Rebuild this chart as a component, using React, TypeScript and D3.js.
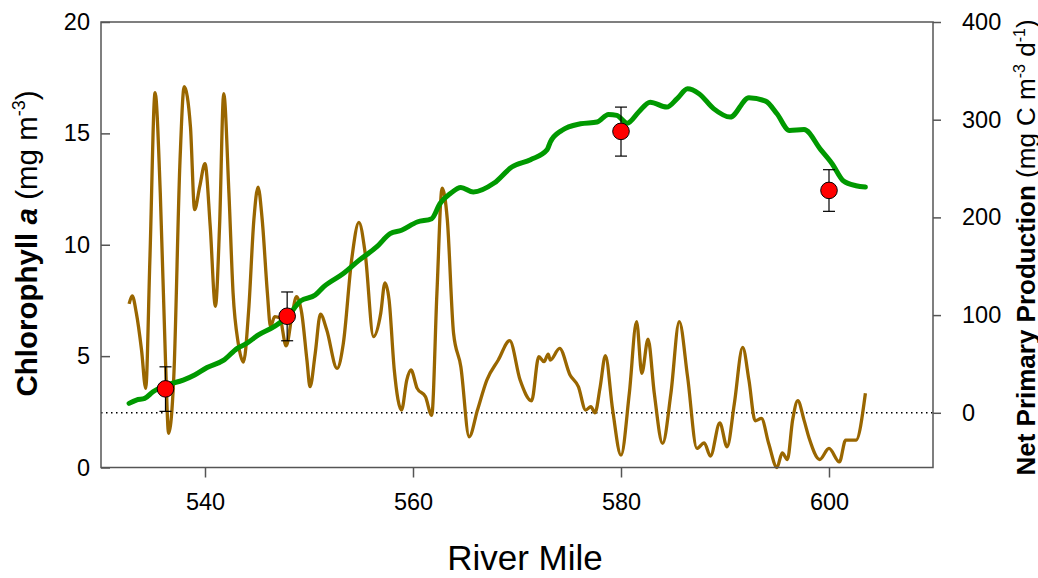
import * as React from "react";
import * as d3 from "d3";

// green line: chlorophyll a along the river (left axis)
const chlMiles = [
	532.7, 533.4, 534.2, 535.0, 536.3, 537.9, 539.0, 540.2, 541.8, 543.1, 544.0,
	545.1, 546.6, 547.9, 549.2, 550.6, 551.4, 553.3, 554.8, 556.5, 557.8, 558.9,
	560.4, 561.8, 562.6, 563.6, 564.6, 565.8, 567.8, 569.5, 571.3, 572.9, 573.2,
	574.3, 576.1, 577.7, 578.8, 579.6, 580.6, 581.7, 582.8, 584.4, 585.4, 586.4,
	587.5, 588.9, 590.5, 592.3, 593.9, 595.0, 596.2, 597.6, 599.2, 600.3, 601.4,
	602.6, 603.5,
];
const chlValues = [
	2.88, 3.03, 3.1, 3.4, 3.7, 3.92, 4.15, 4.49, 4.82, 5.35, 5.57, 5.94, 6.31,
	6.76, 7.48, 7.74, 8.11, 8.71, 9.3, 9.9, 10.5, 10.65, 11.02, 11.17, 11.85,
	12.3, 12.57, 12.37, 12.77, 13.49, 13.82, 14.27, 14.61, 15.13, 15.43, 15.51,
	15.85, 15.81, 15.46, 15.96, 16.4, 16.18, 16.56, 17.0, 16.78, 16.11, 15.73,
	16.6, 16.45, 15.88, 15.13, 15.17, 14.27, 13.64, 12.86, 12.65, 12.59,
];

// brown line: net primary production (right axis)
const nppMiles = [
	532.7, 533.0, 533.4, 533.9, 534.3, 534.7, 535.2, 535.7, 536.2, 536.5, 537.0,
	537.6, 538.0, 538.6, 539.0, 539.5, 540.0, 540.5, 541.0, 541.4, 541.8, 542.3,
	542.7, 543.2, 543.7, 544.2, 544.7, 545.1, 545.5, 546.0, 546.3, 546.7, 547.2,
	547.8, 548.4, 548.8, 549.3, 549.8, 550.1, 550.6, 551.1, 551.7, 552.7, 553.3,
	554.1, 554.8, 555.4, 556.2, 556.9, 557.3, 557.7, 558.2, 558.9, 559.4, 559.8,
	560.4, 561.2, 561.8, 562.3, 562.8, 563.3, 563.9, 564.6, 565.4, 566.2, 567.1,
	568.2, 569.3, 570.3, 571.4, 572.1, 572.6, 573.0, 573.2, 574.1, 575.1, 575.9,
	576.6, 577.1, 577.5, 578.0, 578.5, 579.2, 580.0, 580.8, 581.5, 582.0, 582.6,
	583.2, 584.0, 584.8, 585.6, 586.4, 587.3, 588.0, 588.6, 589.5, 590.2, 590.9,
	591.7, 592.3, 592.9, 593.5, 594.2, 595.0, 595.5, 596.0, 596.5, 597.0, 597.6,
	598.1, 599.1, 600.0, 601.0, 601.6, 602.6, 603.5,
];
const nppValues = [
	111.5, 119.7, 102, 64, 25, 156.6, 327.6, 225, 54, -21, 37, 259, 333.7, 293,
	208, 232, 255, 191, 109, 191, 326.6, 225, 122.5, 71, 52, 105, 197.6, 231,
	197.6, 122.5, 88, 98.5, 96.8, 68.4, 102, 119, 102, 54, 26.7, 61, 101, 85,
	45.5, 71, 156.6, 195, 163.5, 78, 102, 133, 115.6, 43.8, 2.8, 33.5, 43.8, 25,
	16.4, -2.7, 122.5, 230, 197.6, 81.4, 47.2, -24.6, 2.8, 33.5, 54, 73.8, 33.5,
	12.3, 57.4, 52.3, 60, 54, 66, 38.7, 26.7, 2.8, 6.2, 0, 26.7, 58.5, 2.8, -43.4,
	20, 93.3, 40.4, 75.3, 20, -31.4, 20, 93.3, 37, -36.5, -30.8, -44.4, -10.3,
	-34.9, 9.6, 67, 33.5, -8.2, -5.7, -31.4, -56, -41, -47.8, -7.5, 12.3, -7.5,
	-26.3, -47.8, -36.5, -50.3, -28, -28, 20,
];

// red points: station means with error bars (left axis)
const stationMiles = [536.2, 547.9, 580.0, 600.0];
const stationChl = [3.53, 6.79, 15.09, 12.44];
const stationLow = [2.52, 5.69, 13.98, 11.5];
const stationHigh = [4.52, 7.88, 16.18, 13.37];

const mileTicks = [540, 560, 580, 600];
const chlTicks = [0, 5, 10, 15, 20];
const nppTicks = [0, 100, 200, 300, 400];

const width = 1038;
const height = 578;
const plotLeft = 101;
const plotRight = 933;
const plotTop = 22;
const plotBottom = 467.5;
const axisColor = "#555555";
const font = "'Liberation Sans', Arial, Helvetica, sans-serif";

function styleAxis(g: d3.Selection<SVGGElement, unknown, null, undefined>) {
	g.attr("font-size", null).attr("font-family", null);
	g.select(".domain").remove();
	g.selectAll(".tick line")
		.attr("stroke", axisColor)
		.attr("stroke-width", 1.5);
	g.selectAll(".tick text").attr("fill", "#000");
}

export default function App() {
	const xScale = d3.scaleLinear([530, 610], [plotLeft, plotRight]);
	const chlScale = d3.scaleLinear([0, 20], [plotBottom, plotTop]);
	const nppScale = d3.scaleLinear([-56, 400], [plotBottom, plotTop]);

	const gxRef = React.useRef<SVGGElement>(null);
	const gyRef = React.useRef<SVGGElement>(null);
	const gy2Ref = React.useRef<SVGGElement>(null);

	React.useEffect(() => {
		d3.select(gxRef.current!)
			.call(
				d3
					.axisBottom(xScale)
					.tickValues(mileTicks)
					.tickSizeInner(10)
					.tickSizeOuter(0)
					.tickPadding(16)
			)
			.call(styleAxis);
		d3.select(gyRef.current!)
			.call(
				d3
					.axisLeft(chlScale)
					.tickValues(chlTicks)
					.tickSizeInner(-9)
					.tickSizeOuter(0)
					.tickPadding(11)
			)
			.call(styleAxis);
		d3.select(gy2Ref.current!)
			.call(
				d3
					.axisRight(nppScale)
					.tickValues(nppTicks)
					.tickSizeInner(8)
					.tickSizeOuter(0)
					.tickPadding(21)
			)
			.call(styleAxis);
	}, []);

	const chlLine = d3
		.line<number>()
		.x((d, i) => xScale(chlMiles[i]))
		.y((d) => chlScale(d))
		.curve(d3.curveMonotoneX);

	const nppLine = d3
		.line<number>()
		.x((d, i) => xScale(nppMiles[i]))
		.y((d) => nppScale(d))
		.curve(d3.curveMonotoneX);

	return (
		<svg
			width={width}
			height={height}
			style={{ position: "absolute", left: 0, top: 0, background: "#fff" }}
			fontFamily={font}
			fontSize={23.5}
		>
			{/* zero line of the production axis */}
			<line
				x1={plotLeft}
				x2={plotRight}
				y1={nppScale(0)}
				y2={nppScale(0)}
				stroke="#000"
				strokeWidth={1.5}
				strokeDasharray="1.5 3.5"
			/>
			<path
				d={nppLine(nppValues) || ""}
				fill="none"
				stroke="#996600"
				strokeWidth={3.3}
				strokeLinejoin="round"
			/>
			<path
				d={chlLine(chlValues) || ""}
				fill="none"
				stroke="#009900"
				strokeWidth={5}
				strokeLinejoin="round"
				strokeLinecap="round"
			/>
			{stationMiles.map((m, i) => {
				const x = xScale(m);
				return (
					<g key={m}>
						<line
							x1={x}
							x2={x}
							y1={chlScale(stationLow[i])}
							y2={chlScale(stationHigh[i])}
							stroke="#000"
							strokeWidth={1.2}
						/>
						<line
							x1={x - 6}
							x2={x + 6}
							y1={chlScale(stationLow[i])}
							y2={chlScale(stationLow[i])}
							stroke="#000"
							strokeWidth={1.2}
						/>
						<line
							x1={x - 6}
							x2={x + 6}
							y1={chlScale(stationHigh[i])}
							y2={chlScale(stationHigh[i])}
							stroke="#000"
							strokeWidth={1.2}
						/>
						<circle
							cx={x}
							cy={chlScale(stationChl[i])}
							r={8.3}
							fill="#ff0000"
							stroke="#000"
							strokeWidth={1}
						/>
					</g>
				);
			})}
			<rect
				x={plotLeft}
				y={plotTop}
				width={plotRight - plotLeft}
				height={plotBottom - plotTop}
				fill="none"
				stroke={axisColor}
				strokeWidth={1.5}
			/>
			<g ref={gxRef} transform={`translate(0,${plotBottom})`} />
			<g ref={gyRef} transform={`translate(${plotLeft},0)`} />
			<g ref={gy2Ref} transform={`translate(${plotRight},0)`} />

			<text
				transform="translate(37,243.5) rotate(-90)"
				textAnchor="middle"
				fontSize={29.5}
			>
				<tspan fontWeight="bold">{"Chlorophyll "}</tspan>
				<tspan fontWeight="bold" fontStyle="italic">
					a
				</tspan>
				<tspan>{" (mg m"}</tspan>
				<tspan fontSize={18} dy={-12}>
					-3
				</tspan>
				<tspan dy={12}>)</tspan>
			</text>
			<text
				transform="translate(1035,247.5) rotate(-90)"
				textAnchor="middle"
				fontSize={26}
			>
				<tspan fontWeight="bold">{"Net Primary Production "}</tspan>
				<tspan>{"(mg C m"}</tspan>
				<tspan fontSize={16} dy={-10}>
					-3
				</tspan>
				<tspan dy={10}>{" d"}</tspan>
				<tspan fontSize={16} dy={-10}>
					-1
				</tspan>
				<tspan dy={10}>)</tspan>
			</text>
			<text x={525} y={570} textAnchor="middle" fontSize={35}>
				River Mile
			</text>
		</svg>
	);
}
